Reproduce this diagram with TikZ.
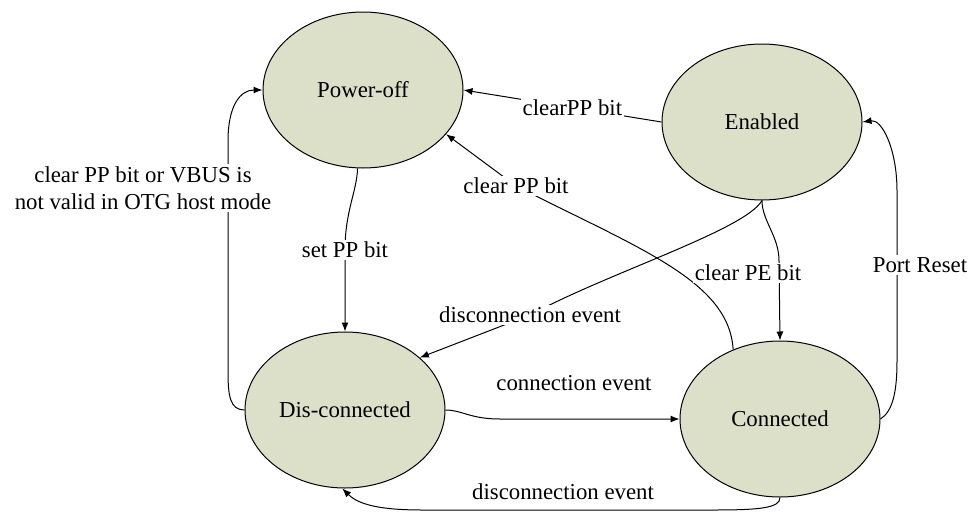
\documentclass[tikz,border=0pt]{standalone}
\usepackage{fontspec}
\setmainfont{Liberation Serif}
\usepackage{tikz}
\usetikzlibrary{arrows.meta,shapes.geometric,positioning}
\definecolor{StateFill}{HTML}{DCE0C8}
\definecolor{StateLine}{HTML}{000000}

\begin{document}
\begin{tikzpicture}[x=0.5pt, y=0.5pt, >={Latex[length=4.5pt,width=3.5pt]},
    font=\rmfamily\fontsize{11.4}{13.6}\selectfont,
    state/.style={ellipse, draw=StateLine, fill=StateFill, line width=0.5pt,
        minimum width=100pt, minimum height=78pt, inner sep=0pt},
    edge/.style={->, line width=0.5pt},
    lbl/.style={fill=white, inner sep=1pt, align=center}]
    \useasboundingbox (0,0) rectangle (969,511);

    % states
    \node[state] (po) at (363,421) {Power-off};
    \node[state] (en) at (762,389) {Enabled};
    \node[state] (ds) at (345,101) {Dis-connected};
    \node[state] (co) at (780,92) {Connected};

    % transitions
    \draw[edge] (en.west) -- node[lbl, pos=0.45] (lclrpp) {clearPP bit} (po.east);
    \draw[edge] (co.124) .. controls (729,230) and (640,262) .. (516,325)
        node[lbl] (lclr) {clear PP bit} -- (po.-28);
    \draw[edge] (en.south) .. controls (745,281) and (610,239) .. (530,196)
        node[lbl] (ldisc) {disconnection event} -- (ds.35);
    \draw[edge] (en.south) .. controls (762,290) and (779,275) .. (779,250) -- (co.north)
        node[lbl] (lpe) at (748,238) {clear PE bit};
    \draw[edge] (co.east) .. controls (893,100) and (897,120) .. (897,150) -- (897,320)
        .. controls (897,362) and (882,392) .. (en.east)
        node[lbl] (lreset) at (920,246) {Port Reset};
    \draw[edge] (po.-94) .. controls (357,320) and (345,300) .. (345,261)
        node[lbl] (lset) {set PP bit} -- (ds.north);
    \draw[edge] (ds.west) .. controls (230,101) and (228,115) .. (228,140) -- (228,370)
        .. controls (228,405) and (240,421) .. (po.west)
        node[lbl] (lvbus) at (143,323) {clear PP bit or VBUS is\\not valid in OTG host mode};
    \draw[edge] (ds.east) .. controls (462,101) and (470,92) .. (500,92) -- (co.west)
        node (lconn) at (574,128) {connection event};
    \draw[edge] (co.south) .. controls (780,3) and (760,1) .. (713,1) -- (423,1)
        .. controls (385,1) and (360,5) .. (ds.-92)
        node (ldisc2) at (563,19) {disconnection event};
\end{tikzpicture}
\end{document}
